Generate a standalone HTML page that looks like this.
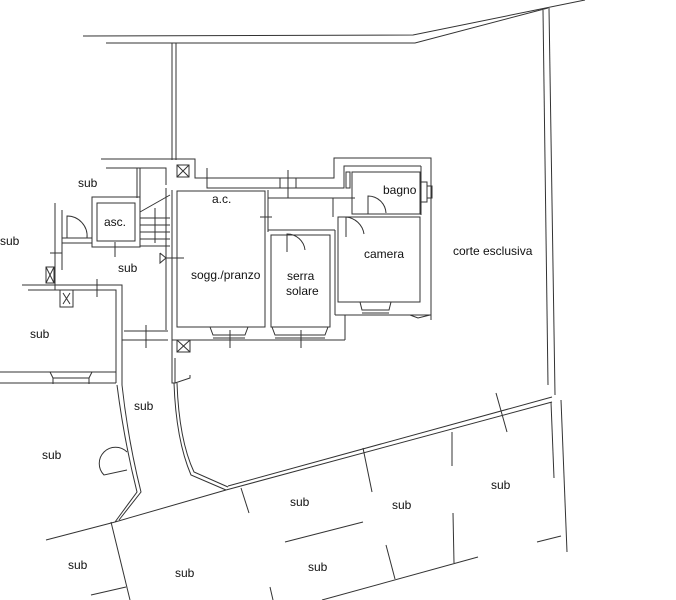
<!DOCTYPE html>
<html><head><meta charset="utf-8"><style>
html,body{margin:0;padding:0;background:#fff;width:676px;height:600px;overflow:hidden}
svg{display:block}
text{font-family:"Liberation Sans",sans-serif;font-size:12px;fill:#111}
</style></head><body>
<svg width="676" height="600" viewBox="0 0 676 600" xmlns="http://www.w3.org/2000/svg">
<g fill="none" stroke="#333" stroke-width="1">
<!-- top boundary -->
<polyline points="83,36 413,35 585,0"/>
<polyline points="106,43 415,43 548,8"/>
<line x1="543" y1="10" x2="548" y2="385"/>
<line x1="549" y1="8" x2="555" y2="395"/>
<line x1="551" y1="402" x2="554" y2="478"/>
<line x1="561" y1="400" x2="567" y2="552"/>
<line x1="172" y1="43" x2="172" y2="160"/>
<line x1="176" y1="43" x2="176" y2="160"/>
<!-- building outer -->
<polyline points="101,159 195,159 195,178 334,178 334,158 431,158 431,320"/>
<polyline points="106,168 166,168 166,185"/>
<polyline points="207,168 207,188 344,188 344,166 421,166"/>
<polyline points="421,166 421,215"/>
<!-- left column -->
<line x1="137" y1="168" x2="137" y2="198"/>
<line x1="140" y1="168" x2="140" y2="198"/>
<line x1="166" y1="188" x2="166" y2="330"/>
<line x1="172" y1="190" x2="172" y2="345"/>
<!-- asc -->
<rect x="92" y="197" width="48" height="50"/>
<rect x="97" y="203" width="38" height="38"/>
<!-- stairs -->
<polyline points="140,212 170,195"/>
<line x1="140" y1="218" x2="170" y2="218"/>
<line x1="140" y1="225" x2="170" y2="225"/>
<line x1="140" y1="232" x2="170" y2="232"/>
<line x1="140" y1="239" x2="170" y2="239"/>
<line x1="140" y1="246" x2="170" y2="246"/>
<line x1="155" y1="208" x2="155" y2="243"/>
<!-- left walls -->
<line x1="55" y1="203" x2="55" y2="290"/>
<line x1="62" y1="210" x2="62" y2="270"/>
<polyline points="62,238 92,238"/>
<polyline points="62,243 92,243"/>
<path d="M67,238 L67,216 A20,20 0 0 1 87,238"/>
<line x1="50" y1="253" x2="62" y2="253"/>
<rect x="46" y="267" width="8" height="16"/>
<line x1="46" y1="267" x2="54" y2="283"/><line x1="54" y1="267" x2="46" y2="283"/>
<polyline points="22,285 122,285 122,340 168,340"/>
<polyline points="28,290 116,290 116,383"/>
<line x1="122" y1="340" x2="122" y2="385"/>
<line x1="124" y1="331" x2="168" y2="331"/>
<rect x="60" y="290" width="13" height="17"/>
<line x1="63" y1="293" x2="70" y2="304"/><line x1="70" y1="293" x2="63" y2="304"/>
<line x1="97" y1="279" x2="97" y2="297"/>
<line x1="0" y1="372" x2="116" y2="372"/>
<line x1="0" y1="383" x2="116" y2="383"/>
<path d="M50,372 L53,378 L89,378 L92,372 M53,378 L53,384 M89,378 L89,384"/>
<line x1="146" y1="325" x2="146" y2="348"/>
<line x1="115" y1="242" x2="115" y2="257"/>
<!-- door triangle -->
<polyline points="160,253 166,258 160,263 160,253"/>
<line x1="166" y1="258" x2="184" y2="258"/>
<!-- sogg -->
<rect x="177" y="191" width="88" height="136"/>
<line x1="172" y1="340" x2="345" y2="340"/>
<path d="M210,327 L213,335 L245,335 L248,327"/>
<line x1="213" y1="338" x2="245" y2="338"/>
<line x1="230" y1="330" x2="230" y2="348"/>
<line x1="265" y1="191" x2="265" y2="327"/>
<line x1="268" y1="190" x2="268" y2="232"/>
<line x1="260" y1="217" x2="272" y2="217"/>
<line x1="288" y1="170" x2="288" y2="198"/>
<line x1="280" y1="178" x2="280" y2="188"/><line x1="296" y1="178" x2="296" y2="188"/>
<line x1="268" y1="230" x2="335" y2="230"/>
<line x1="268" y1="198" x2="355" y2="198"/>
<!-- serra -->
<rect x="271" y="235" width="59" height="92"/>
<path d="M272,327 L275,335 L325,335 L328,327"/>
<line x1="275" y1="338" x2="325" y2="338"/>
<line x1="301" y1="330" x2="301" y2="348"/>
<path d="M287,252 L287,234 A18,18 0 0 1 305,250"/>
<line x1="287" y1="252" x2="287" y2="234"/>
<line x1="335" y1="230" x2="335" y2="315"/>
<polyline points="335,315 345,315 345,340"/>
<!-- camera -->
<rect x="338" y="217" width="82" height="85"/>
<path d="M360,302 L362,310 L389,310 L391,302"/>
<line x1="362" y1="313" x2="389" y2="313"/>
<line x1="345" y1="315" x2="431" y2="315"/>
<path d="M346,237 L346,217 A20,20 0 0 1 364,234"/>
<line x1="333" y1="198" x2="333" y2="217"/>
<!-- bagno -->
<rect x="352" y="172" width="68" height="42"/>
<rect x="346" y="172" width="4" height="16"/>
<path d="M368,214 L368,196 A18,18 0 0 1 386,213"/>
<rect x="421" y="182" width="6" height="20"/>
<rect x="427" y="186" width="5" height="12"/>
<path d="M410,315 L418,318 L430,315"/>
<!-- vents -->
<rect x="177" y="165" width="12" height="12"/>
<line x1="177" y1="165" x2="189" y2="177"/><line x1="189" y1="165" x2="177" y2="177"/>
<rect x="177" y="340" width="13" height="12"/>
<line x1="177" y1="340" x2="190" y2="352"/><line x1="190" y1="340" x2="177" y2="352"/>
<!-- corridor walls -->
<polyline points="172,345 172,383 175,383 175,358"/>
<polyline points="175,383 190,378 190,375"/>
<path d="M117,385 Q124,440 137,492 L115,522"/>
<path d="M122,385 Q128,440 141,492 L119,520"/>
<path d="M174,383 Q176,440 191,475 L226,490"/>
<path d="M177,383 Q179,440 194,472 L228,487"/>
<path d="M127,452 A14,14 0 0 0 104,475 L127,470"/>
<!-- diagonals -->
<polyline points="46,540 115,522 226,490"/>
<line x1="226" y1="490" x2="552" y2="402"/>
<line x1="228" y1="486" x2="552" y2="397"/>
<line x1="111" y1="522" x2="130" y2="600"/>
<line x1="241" y1="488" x2="249" y2="513"/>
<line x1="270" y1="587" x2="273" y2="600"/>
<line x1="363" y1="448" x2="372" y2="492"/>
<line x1="386" y1="545" x2="395" y2="579"/>
<line x1="452" y1="432" x2="452" y2="466"/>
<line x1="453" y1="513" x2="454" y2="563"/>
<line x1="496" y1="393" x2="507" y2="432"/>
<line x1="322" y1="600" x2="478" y2="557"/>
<line x1="285" y1="542" x2="363" y2="522"/>
<line x1="537" y1="542" x2="561" y2="536"/>
<line x1="91" y1="595" x2="126" y2="587"/>
</g>
<text x="78" y="187">sub</text>
<text x="0" y="245">sub</text>
<text x="104" y="226">asc.</text>
<text x="118" y="272">sub</text>
<text x="30" y="338">sub</text>
<text x="212" y="203">a.c.</text>
<text x="191" y="279">sogg./pranzo</text>
<text x="287" y="280">serra</text>
<text x="286" y="295">solare</text>
<text x="364" y="258">camera</text>
<text x="383" y="194">bagno</text>
<text x="453" y="255">corte esclusiva</text>
<text x="134" y="410">sub</text>
<text x="42" y="459">sub</text>
<text x="290" y="506">sub</text>
<text x="392" y="509">sub</text>
<text x="491" y="489">sub</text>
<text x="68" y="569">sub</text>
<text x="175" y="577">sub</text>
<text x="308" y="571">sub</text>
</svg>
</body></html>
